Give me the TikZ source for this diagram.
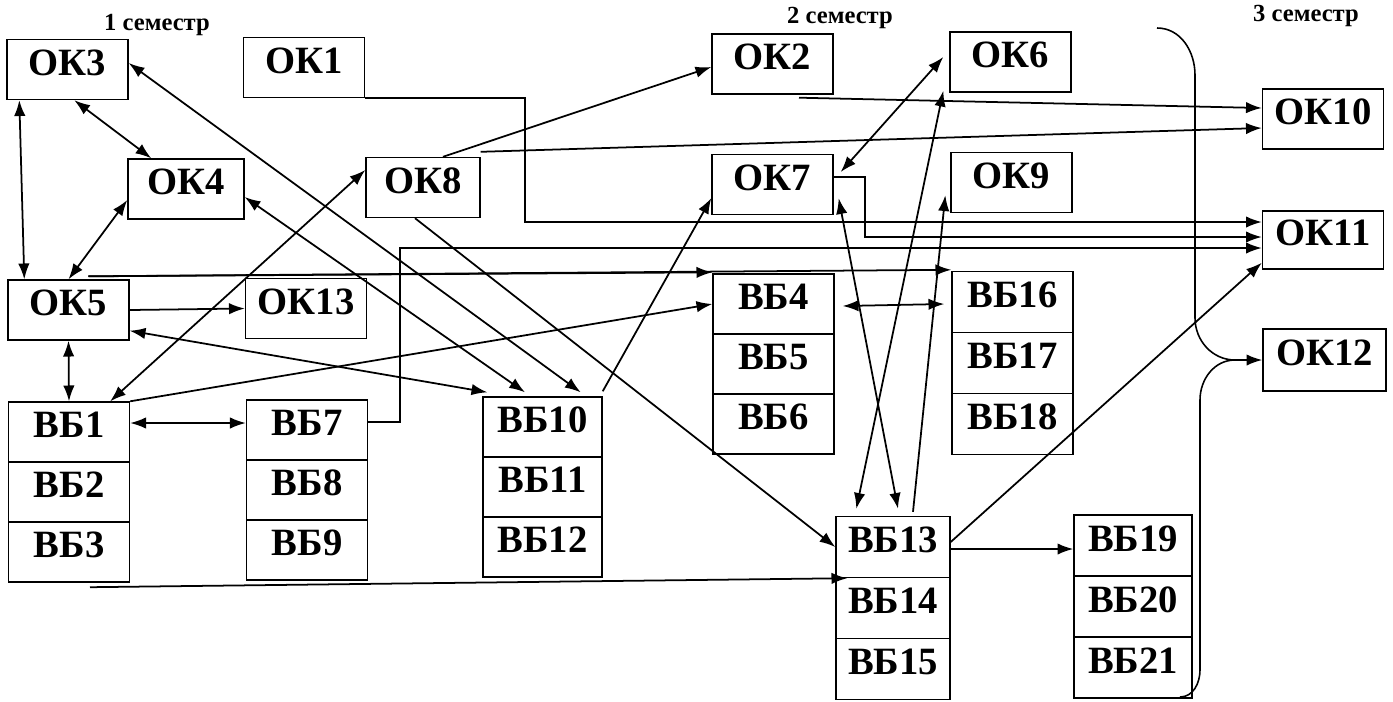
\documentclass[tikz,border=0pt]{standalone}
\usepackage{fontspec}
\setmainfont{Liberation Serif}
\usetikzlibrary{arrows.meta}

\begin{document}
\begin{tikzpicture}[x=0.02cm,y=-0.02cm,>={Latex[length=9pt,width=6.5pt]}]
\tikzstyle{box}=[draw,line width=0.8pt,minimum width=2.42cm,minimum height=1.2cm,inner sep=0pt,text height=0.52cm,text depth=0.3cm,font=\bfseries\fontsize{22}{24}\selectfont]
\tikzstyle{tall}=[box,minimum height=1.22cm]
\tikzstyle{sem}=[font=\bfseries\fontsize{14}{16}\selectfont]
\tikzstyle{link}=[draw,->,line width=1pt]
\tikzstyle{dlink}=[draw,<->,line width=1pt]

\useasboundingbox (0,0) rectangle (1393,701);

% semesters
\node[sem] (s1) at (157,25) {1 семестр};
\node[sem] (s2) at (840,18) {2 семестр};
\node[sem] (s3) at (1306,16) {3 семестр};

% first column
\node[box] (ok3) at (67.5,69.5) {ОК3};
\node[box] (ok1) at (304,67.5) {ОК1};
\node[box,minimum width=2.32cm] (ok4) at (186,189) {ОК4};
\node[box,minimum width=2.28cm] (ok8) at (423,187.5) {ОК8};
\node[box] (ok5) at (68.5,310) {ОК5};
\node[box] (ok13) at (306,308.5) {ОК13};
\node[box] (vb1) at (69,432) {ВБ1};
\node[box] (vb2) at (69,492) {ВБ2};
\node[box] (vb3) at (69,552) {ВБ3};
\node[box] (vb7) at (307,430) {ВБ7};
\node[box] (vb8) at (307,490) {ВБ8};
\node[box] (vb9) at (307,550) {ВБ9};
\node[box,minimum width=2.38cm] (vb10) at (542.5,427) {ВБ10};
\node[box,minimum width=2.38cm] (vb11) at (542.5,487) {ВБ11};
\node[box,minimum width=2.38cm] (vb12) at (542.5,547) {ВБ12};

% second column
\node[box] (ok2) at (772.5,64) {ОК2};
\node[box] (ok7) at (772.5,184.5) {ОК7};
\node[box] (vb4) at (773.5,304) {ВБ4};
\node[box] (vb5) at (773.5,364) {ВБ5};
\node[box] (vb6) at (773.5,424) {ВБ6};
\node[box] (ok6) at (1010.5,62) {ОК6};
\node[box] (ok9) at (1011.5,182.5) {ОК9};
\node[tall] (vb16) at (1012.5,302) {ВБ16};
\node[tall] (vb17) at (1012.5,363) {ВБ17};
\node[tall] (vb18) at (1012.5,424) {ВБ18};
\node[tall,minimum width=2.28cm] (vb13) at (893,547) {ВБ13};
\node[tall,minimum width=2.28cm] (vb14) at (893,608) {ВБ14};
\node[tall,minimum width=2.28cm] (vb15) at (893,669) {ВБ15};
\node[tall,minimum width=2.36cm] (vb19) at (1133,545.5) {ВБ19};
\node[tall,minimum width=2.36cm] (vb20) at (1133,606.5) {ВБ20};
\node[tall,minimum width=2.36cm] (vb21) at (1133,667.5) {ВБ21};

% third column
\node[box] (ok10) at (1323,119) {ОК10};
\node[box,minimum height=1.16cm] (ok11) at (1323,240) {ОК11};
\node[box,minimum width=2.46cm,minimum height=1.24cm] (ok12) at (1324.5,360) {ОК12};

% links of the first semester
\path ([xshift=0.26cm]ok3.south west) edge[dlink] ([xshift=0.34cm]ok5.north west);
\path ([xshift=1.36cm]ok3.south west) edge[dlink] ([xshift=0.48cm]ok4.north west);
\path ([yshift=-0.22cm]ok4.west) edge[dlink] (ok5.north);
\path (ok5.south) edge[dlink] (vb1.north);
\path (ok5.east) edge[link] (ok13.west);
\path ([yshift=0.18cm]vb1.east) edge[dlink] ([yshift=0.14cm]vb7.west);
\path ([xshift=-0.4cm]vb1.north east) edge[dlink] ([yshift=0.35cm]ok8.west);
\path ([yshift=0.13cm]ok3.east) edge[dlink] ([xshift=-0.44cm,yshift=0.08cm]vb10.north east);
\path ([yshift=-0.16cm]ok4.east) edge[dlink] ([xshift=-0.35cm,yshift=0.08cm]vb10.north);
\path ([yshift=0.2cm]ok5.south east) edge[dlink] ([xshift=0.1cm,yshift=0.08cm]vb10.north west);
\path ([yshift=0.1cm]vb10.north east) edge[link] ([yshift=-0.27cm]ok7.west);
\path ([xshift=-0.16cm]ok8.south) edge[link] (vb13.west);
\path ([xshift=0.4cm]ok8.north) edge[link] ([yshift=-0.06cm]ok2.west);
\path ([yshift=0.1cm]ok8.north east) edge[link] ([yshift=-0.18cm]ok10.west);
\path ([xshift=0.53cm,yshift=-0.06cm]ok2.south) edge[link] ([yshift=0.22cm]ok10.west);
\path ([xshift=0.4cm,yshift=0.06cm]ok5.north) edge[link] ([yshift=0.02cm]vb4.north west);
\path ([xshift=0.4cm,yshift=0.06cm]ok5.north) edge[link] ([yshift=0.02cm]vb16.north west);
\path (vb1.north east) edge[link] (vb4.west);
\path ([xshift=0.42cm,yshift=-0.09cm]vb3.south) edge[link] ([xshift=0.24cm]vb13.south west);

% links into OK11
\draw[link] (ok1.south east) -- ++(160,0) |- ([yshift=0.36cm]ok11.west);
\draw[link] ([yshift=0.15cm]ok7.east) -- ++(31,0) |- ([yshift=0.06cm]ok11.west);
\draw[link] ([yshift=0.16cm]vb7.east) -- ++(32,0) |- ([yshift=-0.16cm]ok11.west);

% links of the second semester
\path ([xshift=0.16cm,yshift=-0.04cm]vb4.east) edge[dlink] ([xshift=-0.14cm,yshift=-0.04cm]vb16.west);
\path ([xshift=0.14cm,yshift=0.25cm]ok7.east) edge[dlink] ([xshift=-0.12cm,yshift=0.1cm]ok6.west);
\path ([xshift=-0.12cm,yshift=0.04cm]ok6.south west) edge[dlink] ([xshift=0.42cm,yshift=0.14cm]vb13.north west);
\path ([xshift=0.1cm,yshift=0.34cm]ok7.south east) edge[dlink] ([xshift=0.1cm,yshift=0.14cm]vb13.north);
\path ([xshift=0.4cm,yshift=0.08cm]vb13.north) edge[link] ([xshift=-0.1cm,yshift=0.36cm]ok9.south west);
\path ([yshift=0.1cm]vb13.east) edge[link] ([yshift=0.14cm]ok11.south west);
\path ([yshift=-0.04cm]vb13.east) edge[link] ([yshift=-0.07cm]vb19.west);

% brace to OK12
\coordinate (brtop) at (1157,28);
\coordinate (brbot) at (1180,697);
\coordinate (brmid) at (1235,360);
\draw[line width=0.9pt] (brtop) to[out=0,in=90] (1195,75) -- (1195,318) to[out=-90,in=180] (brmid);
\draw[line width=0.9pt] (brbot) to[out=0,in=-90] (1200,670) -- (1200,400) to[out=90,in=180] (brmid);
\path (brmid) edge[link] (ok12.west);
\end{tikzpicture}
\end{document}
